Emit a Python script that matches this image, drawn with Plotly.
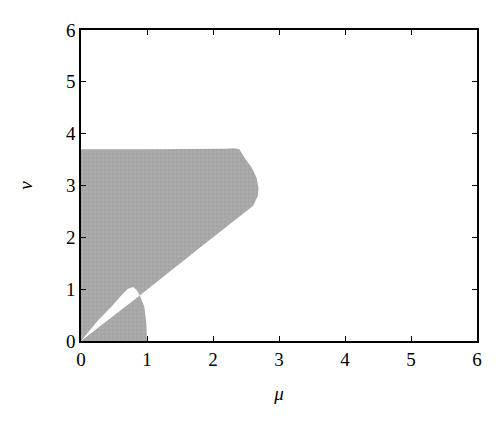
import plotly.graph_objects as go

# Boundary of the gray region
# outer boundary: y-axis up, top edge, bulging right edge, diagonal down
outer_mu = [0.0, 0.0, 1.0, 1.8, 2.2, 2.32, 2.40, 2.48, 2.59, 2.66, 2.69, 2.68, 2.61, 1.80, 0.89]
outer_nu = [0.0, 3.70, 3.70, 3.70, 3.71, 3.72, 3.70, 3.53, 3.34, 3.15, 2.95, 2.80, 2.61, 1.80, 0.88]
# white lobe upper boundary (from its tip back to the origin)
lobe_mu = [0.84, 0.79, 0.71, 0.61, 0.46, 0.26, 0.0]
lobe_nu = [0.99, 1.04, 1.01, 0.88, 0.66, 0.40, 0.0]
# diagonal from origin back to lobe tip
diag_mu = [0.0, 0.89]
diag_nu = [0.0, 0.88]
# lower region right edge
lower_mu = [0.96, 0.99, 1.0, 0.0]
lower_nu = [0.66, 0.34, 0.0, 0.0]

mu = outer_mu + lobe_mu + diag_mu + lower_mu
nu = outer_nu + lobe_nu + diag_nu + lower_nu

fig = go.Figure()
fig.add_trace(go.Scatter(
    x=mu, y=nu, mode="lines", fill="toself",
    line=dict(width=0, color="#a8a8a8"),
    fillcolor="#a6a6a6",
    fillpattern=dict(shape="+", size=4, solidity=0.15, fgcolor="#d6d6d6", bgcolor="#a4a4a4"),
    hoverinfo="skip", showlegend=False,
))

font = dict(family="Liberation Serif, DejaVu Serif, serif", size=19, color="black")
axis_common = dict(
    range=[0, 6], tickvals=[0, 1, 2, 3, 4, 5, 6], ticks="inside", ticklen=5,
    tickwidth=1.2, tickcolor="black", showline=True, linecolor="black", linewidth=1.5,
    mirror="ticks", showgrid=False, zeroline=False, tickfont=font,
)
fig.update_layout(
    width=492, height=414,
    margin=dict(l=73, r=23, t=20, b=81),
    plot_bgcolor="white", paper_bgcolor="white",
    xaxis=dict(**axis_common, title=dict(text="<i>μ</i>", font=font, standoff=18)),
    yaxis=dict(**axis_common, title=dict(text="<i>ν</i>", font=font, standoff=28)),
)
fig.write_html("out.html")
